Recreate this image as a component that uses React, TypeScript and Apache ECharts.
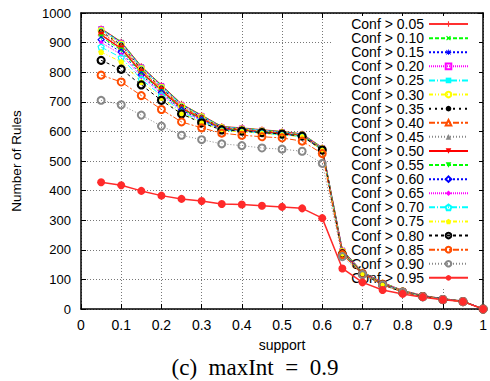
import React, { useEffect, useRef } from 'react';
import * as echarts from 'echarts';

// ---------- data ----------
const supports = [0.05, 0.1, 0.15, 0.2, 0.25, 0.3, 0.35, 0.4, 0.45, 0.5, 0.55, 0.6, 0.65, 0.7, 0.75, 0.8, 0.85, 0.9, 0.95, 1.0];

const confLabels = [
  'Conf > 0.05', 'Conf > 0.10', 'Conf > 0.15', 'Conf > 0.20', 'Conf > 0.25',
  'Conf > 0.30', 'Conf > 0.35', 'Conf > 0.40', 'Conf > 0.45', 'Conf > 0.50',
  'Conf > 0.55', 'Conf > 0.60', 'Conf > 0.65', 'Conf > 0.70', 'Conf > 0.75',
  'Conf > 0.80', 'Conf > 0.85', 'Conf > 0.90', 'Conf > 0.95',
];

const c05 = [948, 903, 820, 757, 693, 655, 617, 612, 606, 600, 592, 546, 200, 126, 90, 63, 46, 35, 27, 0];
const c10 = [947, 902, 819, 756, 692, 654, 616, 611, 605, 599, 591, 545, 199, 125, 89, 62, 45, 35, 27, 0];
const c15 = [946, 900, 817, 754, 690, 653, 615, 610, 604, 598, 590, 544, 198, 125, 88, 62, 45, 35, 27, 0];
const c20 = [945, 899, 816, 753, 689, 652, 614, 610, 603, 597, 589, 543, 197, 124, 88, 61, 45, 34, 27, 0];
const c25 = [943, 897, 814, 751, 687, 651, 614, 609, 603, 596, 589, 543, 196, 124, 87, 61, 44, 34, 26, 0];
const c30 = [941, 895, 812, 749, 686, 650, 613, 608, 602, 596, 588, 542, 195, 123, 87, 61, 44, 34, 26, 0];
const c35 = [938, 892, 810, 747, 684, 648, 612, 607, 601, 595, 587, 541, 194, 123, 86, 60, 44, 34, 26, 0];
const c40 = [935, 889, 807, 745, 682, 647, 611, 606, 600, 594, 587, 541, 193, 122, 86, 60, 44, 34, 26, 0];
const c45 = [931, 885, 804, 742, 680, 645, 610, 605, 599, 593, 586, 540, 192, 122, 85, 60, 43, 33, 26, 0];
const c50 = [926, 880, 800, 739, 678, 643, 609, 604, 598, 592, 585, 539, 191, 121, 85, 59, 43, 33, 26, 0];
const c55 = [919, 875, 796, 735, 675, 641, 608, 603, 597, 591, 585, 539, 190, 121, 84, 59, 43, 33, 26, 0];
const c60 = [910, 868, 791, 731, 672, 639, 607, 602, 596, 590, 584, 538, 189, 120, 84, 59, 43, 33, 25, 0];
const c65 = [900, 860, 785, 727, 669, 637, 606, 601, 595, 589, 584, 538, 188, 120, 83, 58, 42, 33, 25, 0];
const c70 = [885, 849, 776, 721, 665, 634, 604, 600, 594, 588, 583, 537, 187, 119, 83, 58, 42, 33, 25, 0];
const c75 = [868, 835, 767, 714, 660, 631, 602, 599, 593, 588, 582, 537, 186, 119, 82, 58, 42, 32, 25, 0];
const c80 = [840, 810, 757, 705, 659, 629, 605, 601, 596, 591, 584, 537, 185, 118, 82, 57, 42, 32, 25, 0];
const c85 = [790, 767, 721, 674, 632, 612, 594, 587, 582, 578, 567, 525, 184, 118, 82, 57, 42, 32, 25, 0];
const c90 = [705, 690, 655, 618, 587, 572, 558, 552, 544, 540, 533, 492, 177, 116, 81, 57, 41, 32, 25, 0];
const c95 = [428, 418, 399, 383, 372, 365, 355, 353, 349, 345, 340, 307, 137, 90, 64, 51, 40, 31, 25, 0];

const seriesValues = [c05, c10, c15, c20, c25, c30, c35, c40, c45, c50, c55, c60, c65, c70, c75, c80, c85, c90, c95];

// ---------- styles ----------
const RED = '#ff0000';
const GREEN = '#00ff00';
const BLUE = '#0000ff';
const MAG = '#ff00ff';
const CYAN = '#00ffff';
const YEL = '#ffff00';
const BLK = '#000000';
const ORG = '#ff4d00';
const GRY = '#888888';

const PLUS = 'path://M4,0H6V4H10V6H6V10H4V6H0V4H4Z';
const STAR = 'path://M4.3,0H5.7V4.3H10V5.7H5.7V10H4.3V5.7H0V4.3H4.3Z M1.6,0.6L5,4L8.4,0.6L9.4,1.6L6,5L9.4,8.4L8.4,9.4L5,6L1.6,9.4L0.6,8.4L4,5L0.6,1.6Z';
const INVTRI = 'path://M0,0L10,0L5,9Z';
const PENT = 'path://M5,0L10,3.8L8.1,10L1.9,10L0,3.8Z';

type Sty = { color: string; dash: any; width: number; symbol: string; size: number; rotate?: number; empty?: boolean; bw?: number };
const styles: Sty[] = [
  { color: '#ff3030', dash: 'solid', width: 1, symbol: PLUS, size: 6 },
  { color: GREEN, dash: [4, 2], width: 1, symbol: PLUS, size: 6, rotate: 45 },
  { color: BLUE, dash: [2, 2], width: 1, symbol: STAR, size: 6 },
  { color: MAG, dash: [1, 1], width: 1, symbol: 'rect', size: 5, empty: true, bw: 1 },
  { color: CYAN, dash: [6, 2, 1, 2], width: 1, symbol: 'rect', size: 5 },
  { color: YEL, dash: [4, 2, 1, 2, 1, 2], width: 1, symbol: 'circle', size: 6, empty: true, bw: 1.2 },
  { color: BLK, dash: [2, 4], width: 1, symbol: 'circle', size: 5 },
  { color: ORG, dash: [6, 2, 2, 2], width: 1, symbol: 'triangle', size: 6, empty: true, bw: 1 },
  { color: GRY, dash: [1, 2], width: 1, symbol: 'triangle', size: 6 },
  { color: RED, dash: 'solid', width: 1.3, symbol: INVTRI, size: 6 },
  { color: GREEN, dash: [4, 2], width: 1, symbol: INVTRI, size: 5 },
  { color: BLUE, dash: [2, 2], width: 1, symbol: 'diamond', size: 6, empty: true, bw: 1.2 },
  { color: MAG, dash: [1, 1], width: 1, symbol: 'diamond', size: 5 },
  { color: CYAN, dash: [6, 2, 1, 2], width: 1, symbol: PENT, size: 6, empty: true, bw: 1.2 },
  { color: YEL, dash: [4, 2, 1, 2, 1, 2], width: 1, symbol: PENT, size: 6 },
  { color: BLK, dash: [3, 3], width: 1, symbol: 'circle', size: 7, empty: true, bw: 2.2 },
  { color: ORG, dash: [6, 2, 2, 2], width: 1, symbol: 'circle', size: 7, empty: true, bw: 2 },
  { color: GRY, dash: [1, 2], width: 1, symbol: 'circle', size: 7, empty: true, bw: 2 },
  { color: '#ff2a2a', dash: 'solid', width: 1.5, symbol: 'circle', size: 8 },
];

const FONT = 'Liberation Sans';

export default function App() {
  const ref = useRef<HTMLDivElement>(null);
  useEffect(() => {
    if (!ref.current) return;
    const chart = echarts.init(ref.current, undefined, { renderer: 'svg' });

    const series = seriesValues.map((vals, i) => {
      const s = styles[i];
      return {
        name: confLabels[i],
        type: 'line',
        xAxisIndex: 0,
        yAxisIndex: 0,
        data: supports.map((x, j) => [x, vals[j]]),
        symbol: s.symbol,
        symbolSize: s.size,
        symbolRotate: s.rotate || 0,
        showAllSymbol: true,
        color: s.color,
        lineStyle: { color: s.color, width: s.width, type: s.dash },
        itemStyle: s.empty
          ? { color: 'rgba(255,255,255,0)', borderColor: s.color, borderWidth: s.bw }
          : { color: s.color, borderWidth: 0 },
        emphasis: { disabled: true },
        z: 2,
      };
    });

    const gridLine = { show: true, lineStyle: { color: '#777', width: 1, type: [1, 2] } };
    const axisLine = { show: true, onZero: false, lineStyle: { color: '#000', width: 1.5 } };
    const tick = { show: true, inside: true, length: 5, lineStyle: { color: '#000', width: 1 } };

    chart.setOption({
      animation: false,
      backgroundColor: '#fff',
      grid: { left: 81, right: 2, top: 13, bottom: 72, containLabel: false },
      legend: {
        show: true,
        orient: 'vertical',
        align: 'right',
        right: 11,
        top: 16,
        padding: [1, 10, 3, 20],
        backgroundColor: '#fff',
        itemWidth: 39,
        itemHeight: 7,
        itemGap: 0,
        z: 1,
        selectedMode: false,
        textStyle: { fontFamily: FONT, fontSize: 14, lineHeight: 14.1, color: '#000' },
        data: confLabels,
      },
      xAxis: [
        {
          type: 'value', position: 'bottom', min: 0, max: 1, interval: 0.1,
          name: 'support', nameLocation: 'middle', nameGap: 29,
          nameTextStyle: { fontFamily: FONT, fontSize: 14, color: '#000' },
          axisLine, axisTick: tick, splitLine: gridLine,
          axisLabel: { fontFamily: FONT, fontSize: 14, color: '#000', margin: 9, showMinLabel: true, showMaxLabel: true },
        },
        {
          type: 'value', position: 'top', min: 0, max: 1, interval: 0.1,
          axisLine, axisTick: tick, splitLine: { show: false }, axisLabel: { show: false },
        },
      ],
      yAxis: [
        {
          type: 'value', position: 'left', min: 0, max: 1000, interval: 100,
          name: 'Number of Rules', nameLocation: 'middle', nameGap: 58,
          nameTextStyle: { fontFamily: FONT, fontSize: 13.5, color: '#000' },
          axisLine, axisTick: tick, splitLine: gridLine,
          axisLabel: {
            fontFamily: FONT, fontSize: 13, color: '#000', margin: 10, showMinLabel: true, showMaxLabel: true,
            formatter: (v: number) => String(v),
          },
        },
        {
          type: 'value', position: 'right', min: 0, max: 1000, interval: 100,
          axisLine, axisTick: tick, splitLine: { show: false }, axisLabel: { show: false },
        },
      ],
      graphic: [
        {
          type: 'text',
          x: 255,
          y: 367,
          style: {
            text: '(c)  maxInt  =  0.9',
            font: '23px "Liberation Serif"',
            fill: '#000',
            align: 'center',
            verticalAlign: 'middle',
          },
        },
      ],
      series,
    });
    return () => chart.dispose();
  }, []);

  return <div ref={ref} style={{ position: 'fixed', left: 0, top: 0, width: 490, height: 381 }} />;
}
